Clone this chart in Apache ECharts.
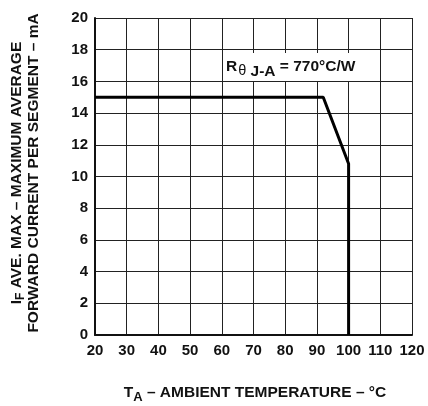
<!DOCTYPE html>
<html><head><meta charset="utf-8">
<script src="https://cdn.jsdelivr.net/npm/echarts@6/dist/echarts.min.js"></script>
<style>html,body{margin:0;padding:0;background:#fff}#c{width:428px;height:406px}</style>
</head><body><div id="c"></div>
<script>
var temperature = [20, 92, 100, 100];
var current = [15, 15, 10.8, 0];
var xTicks = [20, 30, 40, 50, 60, 70, 80, 90, 100, 110, 120];
var yTicks = [0, 2, 4, 6, 8, 10, 12, 14, 16, 18, 20];

var F = '"Liberation Sans", Arial, sans-serif';
var chart = echarts.init(document.getElementById('c'), null, {renderer: 'canvas'});
var lineData = temperature.map(function (t, i) { return [t, current[i]]; });
var gridLine = {show: true, lineStyle: {color: '#222', width: 1}};
chart.setOption({
  animation: false,
  backgroundColor: '#fff',
  grid: {left: 95, right: 16, top: 18, bottom: 71},
  xAxis: {
    type: 'value', min: xTicks[0], max: xTicks[xTicks.length - 1], interval: 10,
    axisLine: {show: true, lineStyle: {color: '#111', width: 2}},
    axisTick: {show: false},
    splitLine: gridLine,
    axisLabel: {color: '#111', fontFamily: F, fontWeight: 'bold', fontSize: 15, margin: 8}
  },
  yAxis: {
    type: 'value', min: yTicks[0], max: yTicks[yTicks.length - 1], interval: 2,
    axisLine: {show: true, lineStyle: {color: '#111', width: 2}},
    axisTick: {show: false},
    splitLine: gridLine,
    axisLabel: {color: '#111', fontFamily: F, fontWeight: 'bold', fontSize: 15, margin: 7}
  },
  series: [{
    type: 'line', data: lineData, symbol: 'none',
    lineStyle: {color: '#000', width: 3}
  }],
  graphic: [
    {type: 'text', x: 225, y: 53, z: 10,
     style: {
       text: '{r|R}{t|θ}{s| J-A}{n| = 770°C/W}',
       backgroundColor: '#fff',
       padding: [1, 2, 1, 1],
       rich: {
         r: {fontFamily: F, fontWeight: 'bold', fontSize: 15.5, fill: '#111'},
         t: {fontFamily: F, fontSize: 14.5, fill: '#111', padding: [7, 0, 0, 1]},
         s: {fontFamily: F, fontWeight: 'bold', fontSize: 15.5, fill: '#111', padding: [10, 0, 0, 0]},
         n: {fontFamily: F, fontWeight: 'bold', fontSize: 15.5, fill: '#111'}
       }
     }},
    {type: 'text', x: 255, y: 393, z: 10,
     style: {
       text: '{b|T}{s|A}{b| – AMBIENT TEMPERATURE – °C}',
       align: 'center', verticalAlign: 'middle',
       rich: {
         b: {fontFamily: F, fontWeight: 'bold', fontSize: 15.5, fill: '#111'},
         s: {fontFamily: F, fontWeight: 'bold', fontSize: 13, fill: '#111', padding: [9, 0, 0, 0]}
       }
     }},
    {type: 'text', x: 17, y: 173, rotation: Math.PI / 2, z: 10,
     style: {
       text: '{b|I}{s|F}{b| AVE. MAX – MAXIMUM AVERAGE}',
       align: 'center', verticalAlign: 'middle',
       rich: {
         b: {fontFamily: F, fontWeight: 'bold', fontSize: 15.5, fill: '#111'},
         s: {fontFamily: F, fontWeight: 'bold', fontSize: 12, fill: '#111', padding: [8, 0, 0, 0]}
       }
     }},
    {type: 'text', x: 34, y: 173, rotation: Math.PI / 2, z: 10,
     style: {
       text: 'FORWARD CURRENT PER SEGMENT – mA',
       align: 'center', verticalAlign: 'middle',
       fontFamily: F, fontWeight: 'bold', fontSize: 15.5, fill: '#111'
     }}
  ]
});
</script></body></html>
